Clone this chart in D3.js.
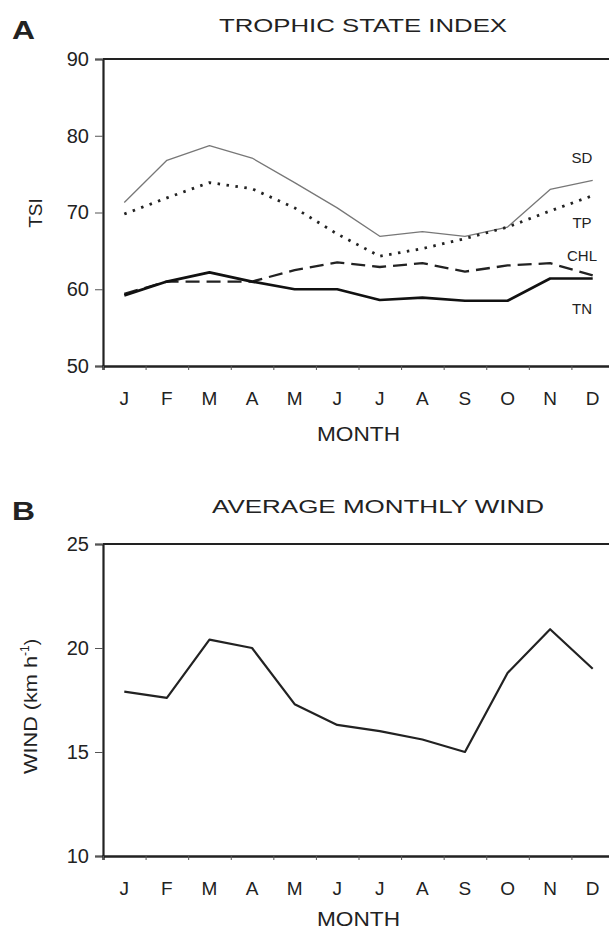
<!DOCTYPE html>
<html>
<head>
<meta charset="utf-8">
<script src="https://cdn.jsdelivr.net/npm/d3@7"></script>
<style>
  html, body { margin: 0; padding: 0; background: #fff; }
  text { font-family: "Liberation Sans", Arial, sans-serif; fill: #222; }
</style>
</head>
<body>
<svg id="chart" width="609" height="933"></svg>
<script>
const months = ["J","F","M","A","M","J","J","A","S","O","N","D"];
const tsiTicks = [50, 60, 70, 80, 90];
const windTicks = [10, 15, 20, 25];

const sdValues  = [71.3, 76.8, 78.7, 77.1, 73.9, 70.6, 66.9, 67.5, 66.9, 68.1, 73.0, 74.2];
const tpValues  = [69.8, 71.9, 73.9, 73.1, 70.6, 67.2, 64.3, 65.3, 66.6, 68.1, 70.2, 72.2];
const chlValues = [59.4, 61.0, 61.0, 61.0, 62.5, 63.5, 62.9, 63.4, 62.3, 63.1, 63.4, 61.8];
const tnValues  = [59.2, 61.0, 62.2, 61.0, 60.0, 60.0, 58.6, 58.9, 58.5, 58.5, 61.4, 61.4];
const windValues = [17.9, 17.6, 20.4, 20.0, 17.3, 16.3, 16.0, 15.6, 15.0, 18.8, 20.9, 19.0];

const seriesNames = ["SD", "TP", "CHL", "TN"];

const svg = d3.select("#chart");
const FONT = '"Liberation Sans", Arial, sans-serif';
const left = 103, right = 614;
const x = d3.scaleLinear().domain([0, 12]).range([left, right]);

function drawPanel(opts) {
  const g = svg.append("g");
  const y = d3.scaleLinear().domain(opts.domain).range([opts.bottom, opts.top]);
  const yAxis = d3.axisLeft(y).tickValues(opts.yTicks).tickSize(8).tickPadding(6);
  const ya = g.append("g").attr("transform", `translate(${left},0)`).call(yAxis);
  ya.select(".domain").attr("stroke", "#222").attr("stroke-width", 2.2);
  ya.selectAll(".tick line").attr("stroke", "#555").attr("stroke-width", 1);
  ya.selectAll(".tick text").style("font-size", "20px").attr("fill", "#2a2a2a")
    .style("font-family", FONT);
  const xAxis = d3.axisBottom(x).tickValues(d3.range(0, 13)).tickSize(4).tickFormat("");
  const xa = g.append("g").attr("transform", `translate(0,${opts.bottom})`).call(xAxis);
  xa.select(".domain").attr("stroke", "#222").attr("stroke-width", 2.4);
  xa.selectAll(".tick line").attr("stroke", "#555").attr("stroke-width", 1);
  g.selectAll(".mlabel").data(months).enter().append("text")
    .attr("x", (d, i) => x(i + 0.5)).attr("y", opts.bottom + 39)
    .attr("text-anchor", "middle").style("font-size", "19px").attr("fill", "#2a2a2a").text(d => d);
  g.append("line").attr("x1", left).attr("x2", right).attr("y1", opts.top).attr("y2", opts.top)
    .attr("stroke", "#222").attr("stroke-width", 2.2);
  g.append("text").attr("x", 317).attr("y", opts.bottom + opts.monthDy)
    .attr("textLength", 83).attr("lengthAdjust", "spacingAndGlyphs")
    .style("font-size", "20px").attr("fill", "#2a2a2a").text("MONTH");
  g.append("text").attr("x", opts.titleX).attr("y", opts.titleY)
    .attr("textLength", opts.titleW).attr("lengthAdjust", "spacingAndGlyphs")
    .style("font-size", "19px").attr("fill", "#2a2a2a").text(opts.title);
  g.append("text").attr("x", 12).attr("y", opts.titleY + 7)
    .attr("textLength", 23).attr("lengthAdjust", "spacingAndGlyphs")
    .style("font-size", "25px").style("font-weight", "bold").attr("fill", "#111").text(opts.letter);
  return { g, y };
}

// Panel A
const A = drawPanel({ domain: [50, 90], top: 59, bottom: 366, yTicks: tsiTicks, monthDy: 75,
  title: "TROPHIC STATE INDEX", titleX: 219, titleW: 288, titleY: 32, letter: "A" });
const lineA = d3.line().x((d, i) => x(i + 0.5)).y(d => A.y(d));
const styles = {
  SD:  { data: sdValues,  stroke: "#777", width: 1.3, dash: null },
  TP:  { data: tpValues,  stroke: "#222", width: 2.8, dash: "2.5,6.5" },
  CHL: { data: chlValues, stroke: "#222", width: 2.3, dash: "14,7" },
  TN:  { data: tnValues,  stroke: "#111", width: 2.7, dash: null }
};
seriesNames.forEach(name => {
  const s = styles[name];
  A.g.append("path").datum(s.data).attr("d", lineA).attr("fill", "none")
    .attr("stroke", s.stroke).attr("stroke-width", s.width)
    .attr("stroke-dasharray", s.dash).attr("stroke-linejoin", "round");
});
const labelPos = { SD: 157, TP: 222, CHL: 255, TN: 308 };
seriesNames.forEach(name => {
  A.g.append("text").attr("x", 582).attr("y", labelPos[name] + 5.5).attr("text-anchor", "middle")
    .style("font-size", "15px").attr("fill", "#333").text(name);
});
A.g.append("text").attr("transform", "translate(42,213) rotate(-90)").attr("text-anchor", "middle")
  .style("font-size", "19px").attr("fill", "#2a2a2a").text("TSI");

// Panel B
const B = drawPanel({ domain: [10, 25], top: 544, bottom: 856, yTicks: windTicks, monthDy: 70,
  title: "AVERAGE MONTHLY WIND", titleX: 212, titleW: 332, titleY: 513, letter: "B" });
const lineB = d3.line().x((d, i) => x(i + 0.5)).y(d => B.y(d));
B.g.append("path").datum(windValues).attr("d", lineB).attr("fill", "none")
  .attr("stroke", "#222").attr("stroke-width", 2.2).attr("stroke-linejoin", "round");
const wl = B.g.append("text").attr("transform", "translate(37,774) rotate(-90)")
  .style("font-size", "19px").attr("fill", "#2a2a2a");
wl.append("tspan").attr("textLength", 118).attr("lengthAdjust", "spacingAndGlyphs").text("WIND (km h");
wl.append("tspan").attr("dy", -8).style("font-size", "12px").text("-1");
wl.append("tspan").attr("dy", 8).text(")");
</script>
</body>
</html>
